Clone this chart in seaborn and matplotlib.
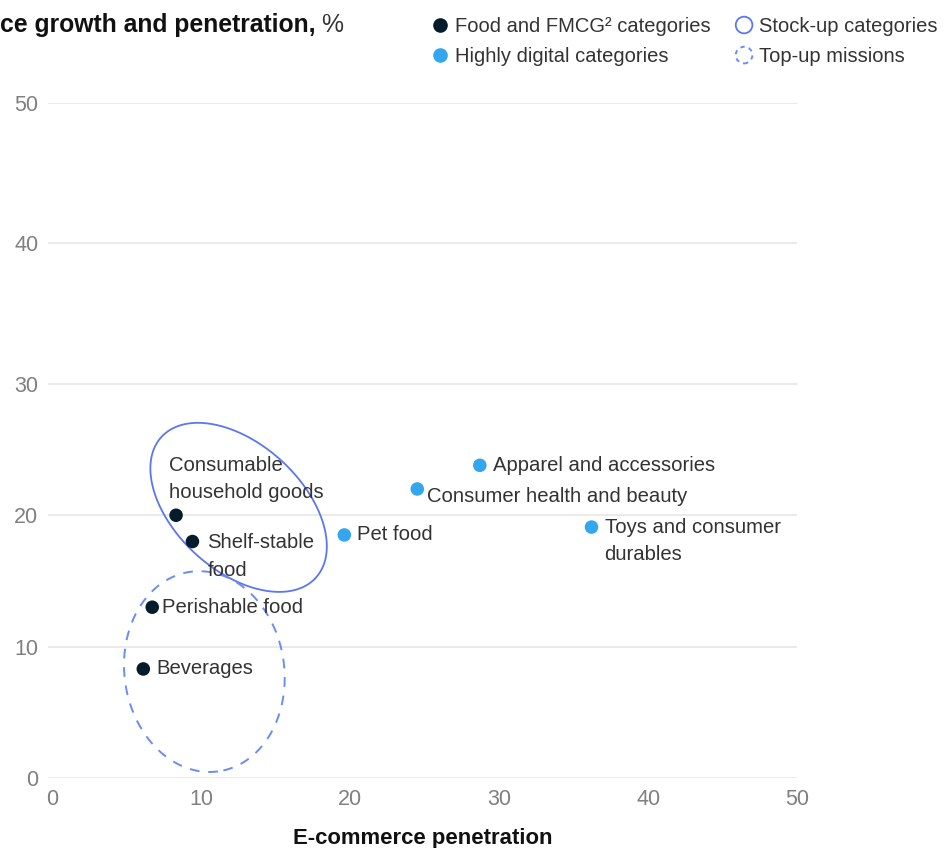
import numpy as np
import pandas as pd
import matplotlib
matplotlib.use("Agg")
import matplotlib.pyplot as plt
from matplotlib.lines import Line2D
from matplotlib.patches import Circle
from matplotlib.legend_handler import HandlerPatch
import seaborn as sns

# Category data: e-commerce penetration (x) and growth (y), %
categories = ["Consumable\nhousehold goods", "Shelf-stable\nfood", "Perishable food",
              "Beverages", "Pet food", "Consumer health and beauty",
              "Apparel and accessories", "Toys and consumer\ndurables"]
penetration = [8.3, 9.4, 6.7, 6.1, 19.6, 24.5, 28.7, 36.2]
growth = [20.0, 18.0, 13.0, 8.3, 18.5, 22.0, 23.8, 19.1]
group = ["Food and FMCG² categories"] * 4 + ["Highly digital categories"] * 4

x_ticks = [0, 10, 20, 30, 40, 50]
y_ticks = [0, 10, 20, 30, 40, 50]

NAVY = "#051C2C"
SKY = "#34A6F0"
RING = "#5C76F2"
RING_DASH = "#6C8BF4"
GRID = "#E6E6E6"
TICK = "#808080"
TEXT = "#333333"

df = pd.DataFrame({"category": categories, "penetration": penetration,
                   "growth": growth, "group": group})

sns.set_theme(style="white")
plt.rcParams["font.family"] = ["Liberation Sans", "DejaVu Sans"]

fig = plt.figure(figsize=(9.51, 8.48), dpi=100)
ax = fig.add_axes([48 / 951, 70 / 848, (797 - 48) / 951, (778 - 103) / 848])

# growth axis: the band above 30 is drawn a little taller than the one below
STRETCH = 1.069


def fwd(y):
    y = np.asarray(y, dtype=float)
    return np.where(y <= 30, y, 30 + (y - 30) * STRETCH)


def inv(y):
    y = np.asarray(y, dtype=float)
    return np.where(y <= 30, y, 30 + (y - 30) / STRETCH)


ax.set_yscale("function", functions=(fwd, inv))

sns.scatterplot(data=df, x="penetration", y="growth", hue="group",
                palette={"Food and FMCG² categories": NAVY,
                         "Highly digital categories": SKY},
                s=95, linewidth=0, legend=False, ax=ax, zorder=4)

# label offsets (pixels) relative to each point
offsets = [(-7, 36), (15, -15), (10, 0), (13, 0),
           (13, 0), (10, -8), (13, 0), (13, -14)]
for (cat, xv, yv), (dx, dy) in zip(zip(categories, penetration, growth), offsets):
    ax.annotate(cat, (xv, yv), xytext=(dx, dy), textcoords="offset pixels",
                ha="left", va="center", fontsize=14.6, color=TEXT,
                linespacing=1.55, zorder=5)


def ring(cx, cy, u, v, **kw):
    t = np.linspace(0, 2 * np.pi, 300)
    xs = cx + u[0] * np.cos(t) + v[0] * np.sin(t)
    ys = cy + u[1] * np.cos(t) + v[1] * np.sin(t)
    ax.plot(xs, ys, clip_on=False, zorder=3, **kw)


# stock-up categories and top-up missions
ring(12.5, 20.6, (5.15, -5.4), (-2.93, -3.5), color=RING, lw=1.3)
ring(10.2, 8.1, (0.91, -7.6), (-5.32, -0.8), color=RING_DASH, lw=1.4,
     linestyle=(0, (5, 4.5)))

ax.set_xlim(-0.3, 50)
ax.set_ylim(0, 50)
ax.set_xticks(x_ticks)
ax.set_yticks(y_ticks)
ax.set_yticklabels([str(v) for v in y_ticks])
ax.grid(axis="y", color=GRID, lw=1.2)
ax.grid(axis="x", visible=False)
ax.set_axisbelow(True)
for s in ax.spines.values():
    s.set_visible(False)
ax.tick_params(axis="both", length=0, labelsize=15.5, labelcolor=TICK)
ax.tick_params(axis="y", pad=7)
ax.tick_params(axis="x", pad=8)
ax.set_xlabel("E-commerce penetration", fontsize=15.9, fontweight="bold",
              color="#111111", labelpad=13)
ax.set_ylabel("")

# title (left edge at figure border)
t1 = fig.text(0.0, 1 - 25 / 848, "ce growth and penetration,", fontsize=17.8,
              fontweight="bold", color="#111111", ha="left", va="center")
fig.canvas.draw()
bb = t1.get_window_extent()
fig.text((bb.x1 + 5) / 951, 1 - 25 / 848, "%", fontsize=17.8,
         color="#333333", ha="left", va="center")


class HandlerRing(HandlerPatch):
    def create_artists(self, legend, orig_handle, xdescent, ydescent,
                       width, height, fontsize, trans):
        c = Circle((width / 2 - xdescent, height / 2 - ydescent), 6,
                   facecolor="none", edgecolor=orig_handle.get_edgecolor(),
                   linewidth=orig_handle.get_linewidth(),
                   linestyle=orig_handle.get_linestyle())
        c.set_transform(trans)
        return [c]


h_food = Line2D([], [], marker="o", ls="", color=NAVY, markersize=9.5)
h_dig = Line2D([], [], marker="o", ls="", color=SKY, markersize=9.5)
h_stock = Circle((0, 0), 1, facecolor="none", edgecolor=RING, linewidth=1.3)
h_top = Circle((0, 0), 1, facecolor="none", edgecolor=RING_DASH, linewidth=1.4,
               linestyle=(0, (2.2, 2.2)))
fig.legend([h_food, h_dig, h_stock, h_top],
           ["Food and FMCG² categories", "Highly digital categories",
            "Stock-up categories", "Top-up missions"],
           handler_map={Circle: HandlerRing()},
           ncol=2, loc="upper left", bbox_to_anchor=(422 / 951, 1 - 9 / 848),
           frameon=False, fontsize=14.5, handlelength=1.0, handletextpad=0.25,
           columnspacing=1.15, labelspacing=0.55, borderaxespad=0,
           labelcolor=TEXT)

fig.savefig("out.png", dpi=100)
